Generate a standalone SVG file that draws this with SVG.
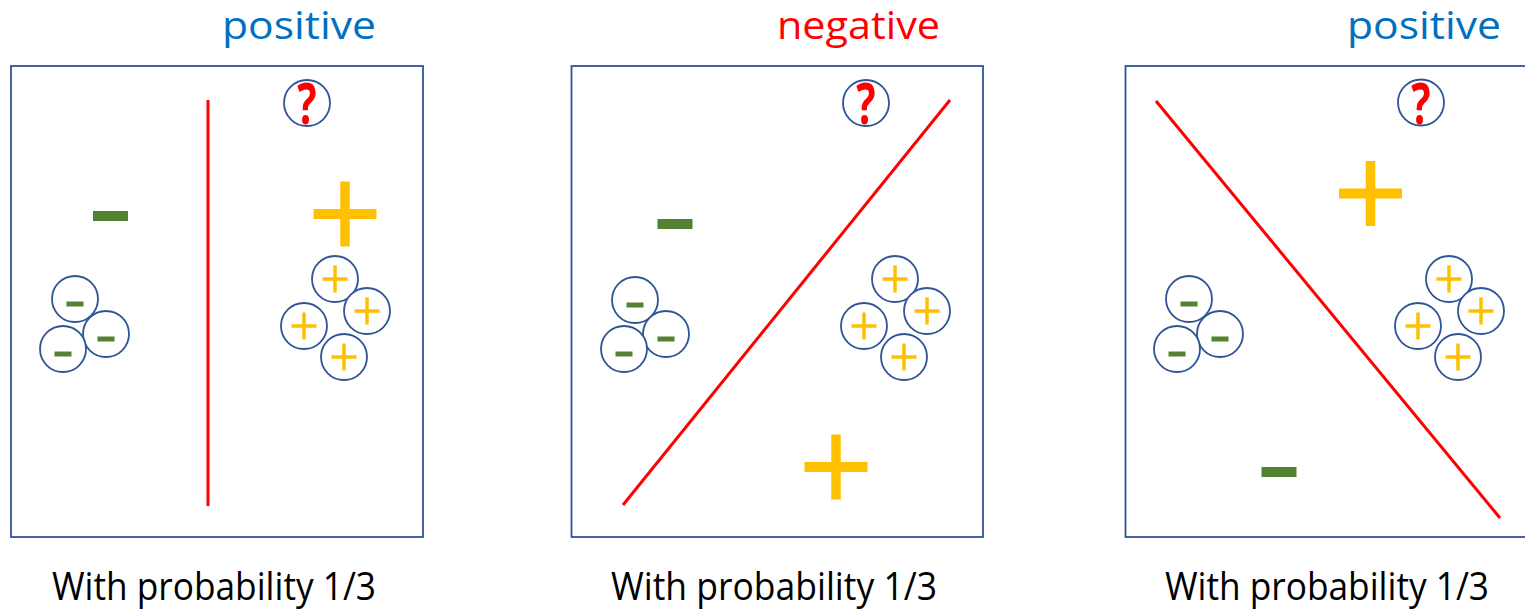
<svg xmlns="http://www.w3.org/2000/svg" xmlns:xlink="http://www.w3.org/1999/xlink" width="1525" height="614" viewBox="0 0 1525 614">
<style>
.box{fill:none;stroke:#2F5597;stroke-width:1.8}
.ring{fill:#fff;stroke:#2F5597;stroke-width:1.8}
.sep{stroke:#FF0000;stroke-width:3;fill:none}
.grn{fill:#548235}
.ylw{fill:#FFC000}
.title{font-family:"Open Sans","Noto Sans",sans-serif;font-size:38px}
.cap{font-family:"Open Sans","Noto Sans",sans-serif;font-size:38px;fill:#000}
.q{font-family:"Open Sans","Liberation Sans",sans-serif;font-size:58px;font-weight:bold;fill:#FF0000}
</style>
<defs>
<g id="smallMinus">
<circle class="ring" cx="0" cy="0" r="23"/>
<rect class="grn" x="-8.5" y="2.5" width="17" height="5"/>
</g>
<g id="smallPlus">
<circle class="ring" cx="0" cy="0" r="23"/>
<rect class="ylw" x="-12.5" y="-1.75" width="25" height="3.5"/>
<rect class="ylw" x="-1.75" y="-13.5" width="3.5" height="27"/>
</g>
<g id="bigPlus">
<rect class="ylw" x="-31.5" y="-5" width="63" height="10"/>
<rect class="ylw" x="-4.75" y="-32.5" width="9.5" height="65"/>
</g>
<g id="bigMinus">
<rect class="grn" x="-17.5" y="-5" width="35" height="10"/>
</g>
<g id="query">
<circle class="ring" cx="0" cy="0" r="23"/>
<text class="q" text-anchor="middle" transform="translate(0,21) scale(0.7,1)">?</text>
</g>
</defs>

<g id="panel1">
<rect class="box" x="11" y="66" width="412" height="471"/>
<text class="title" x="222" y="39" fill="#0070C0" textLength="154" lengthAdjust="spacingAndGlyphs">positive</text>
<line class="sep" x1="208" y1="100" x2="208" y2="506"/>
<use xlink:href="#query" x="307" y="103"/>
<use xlink:href="#bigMinus" x="110.5" y="216"/>
<use xlink:href="#bigPlus" x="345" y="214"/>
<use xlink:href="#smallMinus" x="75" y="299"/>
<use xlink:href="#smallMinus" x="106" y="334"/>
<use xlink:href="#smallMinus" x="63" y="349"/>
<use xlink:href="#smallPlus" x="335" y="279"/>
<use xlink:href="#smallPlus" x="367" y="311"/>
<use xlink:href="#smallPlus" x="304" y="326"/>
<use xlink:href="#smallPlus" x="344" y="357"/>
<text class="cap" x="52" y="600" textLength="324" lengthAdjust="spacingAndGlyphs">With probability 1/3</text>
</g>

<g id="panel2">
<rect class="box" x="571.5" y="66" width="411.5" height="471"/>
<text class="title" x="777" y="39" fill="#FF0000" textLength="163" lengthAdjust="spacingAndGlyphs">negative</text>
<line class="sep" x1="623" y1="505" x2="950" y2="100"/>
<use xlink:href="#query" x="866" y="103"/>
<use xlink:href="#bigMinus" x="675" y="224"/>
<use xlink:href="#bigPlus" x="836" y="467"/>
<use xlink:href="#smallMinus" x="635" y="300"/>
<use xlink:href="#smallMinus" x="666" y="334"/>
<use xlink:href="#smallMinus" x="624" y="349"/>
<use xlink:href="#smallPlus" x="895" y="279"/>
<use xlink:href="#smallPlus" x="927" y="311"/>
<use xlink:href="#smallPlus" x="864" y="326"/>
<use xlink:href="#smallPlus" x="904" y="357"/>
<text class="cap" x="611" y="600" textLength="326" lengthAdjust="spacingAndGlyphs">With probability 1/3</text>
</g>

<g id="panel3">
<rect class="box" x="1125.5" y="66" width="412" height="471"/>
<text class="title" x="1347" y="39" fill="#0070C0" textLength="154" lengthAdjust="spacingAndGlyphs">positive</text>
<line class="sep" x1="1156" y1="101" x2="1500" y2="518"/>
<use xlink:href="#query" x="1421" y="102.5"/>
<use xlink:href="#bigPlus" x="1370.5" y="193.5"/>
<use xlink:href="#bigMinus" x="1279" y="472"/>
<use xlink:href="#smallMinus" x="1189" y="299"/>
<use xlink:href="#smallMinus" x="1220" y="334"/>
<use xlink:href="#smallMinus" x="1177" y="349"/>
<use xlink:href="#smallPlus" x="1449" y="279"/>
<use xlink:href="#smallPlus" x="1481" y="311"/>
<use xlink:href="#smallPlus" x="1418" y="326"/>
<use xlink:href="#smallPlus" x="1458" y="357"/>
<text class="cap" x="1165" y="600" textLength="324" lengthAdjust="spacingAndGlyphs">With probability 1/3</text>
</g>
</svg>
